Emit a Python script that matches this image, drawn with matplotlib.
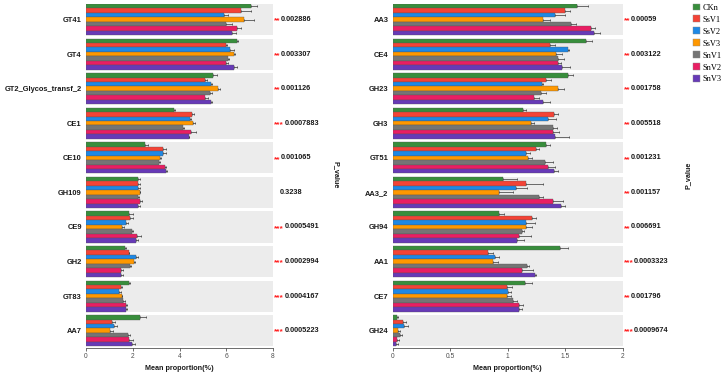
import numpy as np
import matplotlib
matplotlib.use("Agg")
import matplotlib.pyplot as plt
from matplotlib.patches import Patch

plt.rcParams['font.family'] = ['Liberation Sans', 'DejaVu Sans']

groups = ["CKn", "SsV1", "SsV2", "SsV3", "SnV1", "SnV2", "SnV3"]
colors = ["#388E3C", "#F44336", "#1E88E5", "#FF9800", "#757575", "#E91E63", "#673AB7"]

# left panel
left_names = ["GT41", "GT4", "GT2_Glycos_transf_2", "CE1", "CE10",
              "GH109", "CE9", "GH2", "GT83", "AA7"]
left_means = [
    [7.07, 6.65, 5.90, 6.76, 6.00, 6.48, 6.26],
    [6.45, 5.98, 6.18, 6.32, 6.08, 6.00, 6.32],
    [5.45, 5.07, 5.34, 5.65, 5.30, 5.10, 5.34],
    [3.75, 4.53, 4.43, 4.59, 4.13, 4.49, 4.39],
    [2.54, 3.30, 3.31, 3.15, 3.14, 3.37, 3.42],
    [2.22, 2.22, 2.24, 2.29, 2.24, 2.30, 2.23],
    [1.85, 1.88, 1.73, 1.52, 1.97, 2.19, 2.14],
    [1.66, 1.83, 2.12, 2.05, 1.88, 1.48, 1.48],
    [1.85, 1.49, 1.43, 1.52, 1.59, 1.69, 1.69],
    [2.30, 1.12, 1.19, 1.04, 1.79, 1.82, 1.96],
]
left_err = [
    [0.24, 0.43, 0.16, 0.41, 0.26, 0.17, 0.17],
    [0.07, 0.07, 0.17, 0.07, 0.04, 0.06, 0.16],
    [0.16, 0.11, 0.06, 0.07, 0.10, 0.10, 0.04],
    [0.06, 0.10, 0.06, 0.07, 0.07, 0.21, 0.03],
    [0.10, 0.14, 0.13, 0.04, 0.04, 0.07, 0.06],
    [0.07, 0.07, 0.07, 0.04, 0.04, 0.08, 0.06],
    [0.14, 0.13, 0.07, 0.09, 0.03, 0.16, 0.09],
    [0.06, 0.03, 0.10, 0.04, 0.04, 0.10, 0.11],
    [0.04, 0.06, 0.06, 0.04, 0.06, 0.07, 0.06],
    [0.26, 0.14, 0.13, 0.11, 0.10, 0.18, 0.13],
]
left_p = ["0.002886", "0.003307", "0.001126", "0.0007883", "0.001065",
          "0.3238", "0.0005491", "0.0002994", "0.0004167", "0.0005223"]
left_stars = ["**", "**", "**", "***", "**", "", "***", "***", "***", "***"]

# right panel
right_names = ["AA3", "CE4", "GH23", "GH3", "GT51",
               "AA3_2", "GH94", "AA1", "CE7", "GH24"]
right_means = [
    [1.606, 1.50, 1.41, 1.31, 1.55, 1.72, 1.75],
    [1.68, 1.365, 1.525, 1.42, 1.44, 1.435, 1.47],
    [1.52, 1.33, 1.30, 1.44, 1.29, 1.23, 1.31],
    [1.13, 1.40, 1.35, 1.20, 1.39, 1.39, 1.41],
    [1.33, 1.25, 1.16, 1.18, 1.32, 1.35, 1.40],
    [0.96, 1.16, 1.07, 0.92, 1.27, 1.39, 1.46],
    [0.92, 1.21, 1.16, 1.16, 1.12, 1.10, 1.08],
    [1.455, 0.83, 0.89, 0.875, 1.165, 1.12, 1.24],
    [1.15, 0.99, 1.00, 0.99, 1.05, 1.10, 1.095],
    [0.04, 0.093, 0.10, 0.05, 0.067, 0.038, 0.03],
]
right_err = [
    [0.09, 0.04, 0.09, 0.06, 0.04, 0.04, 0.05],
    [0.05, 0.05, 0.01, 0.05, 0.05, 0.03, 0.07],
    [0.05, 0.05, 0.01, 0.05, 0.04, 0.04, 0.06],
    [0.03, 0.04, 0.07, 0.03, 0.04, 0.06, 0.12],
    [0.04, 0.02, 0.03, 0.03, 0.07, 0.06, 0.04],
    [0.12, 0.15, 0.10, 0.13, 0.04, 0.09, 0.04],
    [0.05, 0.04, 0.08, 0.05, 0.02, 0.10, 0.06],
    [0.07, 0.04, 0.03, 0.04, 0.02, 0.10, 0.01],
    [0.06, 0.05, 0.03, 0.04, 0.03, 0.03, 0.03],
    [0.01, 0.02, 0.03, 0.015, 0.015, 0.02, 0.015],
]
right_p = ["0.00059", "0.003122", "0.001758", "0.005518", "0.001231",
           "0.001157", "0.006691", "0.0003323", "0.001796", "0.0009674"]
right_stars = ["**", "**", "**", "**", "**", "**", "**", "***", "**", "***"]


def draw_panel(ax, names, means, errs, pvals, stars, xmax, xticks, xticklabels):
    n = len(names)
    band = 0.9
    bh = band / len(groups)
    for i in range(n):
        ax.axhspan(i - band / 2, i + band / 2, color="#ececec", lw=0, zorder=0)
        for j in range(len(groups)):
            y = i - band / 2 + (j + 0.5) * bh
            ax.barh(y, means[i][j], height=bh, color=colors[j],
                    edgecolor="#555555", linewidth=0.25, zorder=2)
            ax.errorbar(means[i][j], y, xerr=[[0], [errs[i][j]]], fmt="none",
                        ecolor="#333333", elinewidth=0.5, capsize=0.9,
                        capthick=0.5, zorder=3)
        if stars[i]:
            st = ax.annotate(stars[i], xy=(1, i), xycoords=("axes fraction", "data"),
                             xytext=(0.8, -1.0), textcoords="offset points",
                             ha="left", va="center", color="#FF2020",
                             fontsize=6, fontweight="bold")
            ax.annotate(pvals[i], xy=(1, 0.5), xycoords=st,
                        xytext=(0.3, 1.0), textcoords="offset points",
                        ha="left", va="center", color="#1a1a1a",
                        fontsize=5.3, fontweight="bold")
        else:
            ax.annotate(pvals[i], xy=(1, i), xycoords=("axes fraction", "data"),
                        xytext=(5.0, 0), textcoords="offset points",
                        ha="left", va="center", color="#1a1a1a",
                        fontsize=5.3, fontweight="bold")
    ax.set_xlim(0, xmax)
    ax.set_ylim(n - 1 + band / 2 + 0.05, -band / 2)
    ax.set_yticks(range(n))
    ax.set_yticklabels(names, fontsize=5.4, fontweight="bold", color="#1a1a1a")
    ax.tick_params(axis="y", length=0, pad=3)
    ax.set_xticks(xticks)
    ax.set_xticklabels(xticklabels, fontsize=4.8, color="#4d4d4d")
    ax.tick_params(axis="x", length=2, width=0.5, color="#333333", pad=1.5)
    for s in ["top", "right", "left"]:
        ax.spines[s].set_visible(False)
    ax.spines["bottom"].set_linewidth(0.5)
    ax.spines["bottom"].set_color("#333333")
    ax.set_xlabel("Mean proportion(%)", fontsize=5.2, fontweight="bold",
                  color="#1a1a1a", labelpad=4)


fig = plt.figure(figsize=(7.24, 3.73), dpi=100)
ax1 = fig.add_axes([86 / 724, 1 - 348 / 373, (273 - 86) / 724, 344 / 373])
ax2 = fig.add_axes([392.7 / 724, 1 - 348 / 373, (622.7 - 392.7) / 724, 344 / 373])

draw_panel(ax1, left_names, left_means, left_err, left_p, left_stars,
           8, [0, 2, 4, 6, 8], ["0", "2", "4", "6", "8"])
draw_panel(ax2, right_names, right_means, right_err, right_p, right_stars,
           2, [0, 0.5, 1, 1.5, 2], ["0", "0.5", "1", "1.5", "2"])

fig.text(336 / 724, 1 - 175 / 373, "P_value", rotation=-90, ha="center",
         va="center", fontsize=5.2, fontweight="bold", color="#1a1a1a")
fig.text(688 / 724, 1 - 175 / 373, "P_value", rotation=90, ha="center",
         va="center", fontsize=5.2, fontweight="bold", color="#1a1a1a")

handles = [Patch(facecolor=c, edgecolor="#888888", linewidth=0.3) for c in colors]
fig.legend(handles, groups, loc="upper left", bbox_to_anchor=(691 / 724, 0.995),
           frameon=False, prop={"family": "Liberation Serif", "size": 6},
           handlelength=0.85, handleheight=0.85, handletextpad=0.35,
           labelspacing=0.45, borderaxespad=0, borderpad=0.2)

fig.savefig("out.png", dpi=100)
